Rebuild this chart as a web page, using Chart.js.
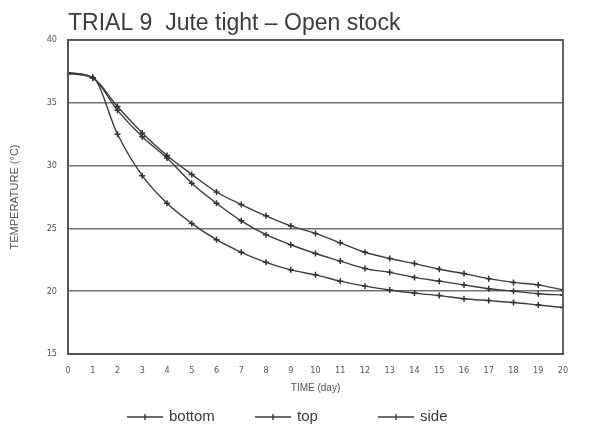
<!DOCTYPE html>
<html>
<head>
<meta charset="utf-8">
<script src="https://cdn.jsdelivr.net/npm/chart.js@4.4.1/dist/chart.umd.min.js"></script>
<style>
  html, body { margin: 0; padding: 0; background: #fff; }
  #wrap { width: 593px; height: 430px; }
</style>
</head>
<body>
<div id="wrap"><canvas id="trial-chart"></canvas></div>
<script>
//-- Readings, one per day//
const days = [0, 1, 2, 3, 4, 5, 6, 7, 8, 9, 10, 11, 12, 13, 14, 15, 16, 17, 18, 19, 20];
const bottomTemp = [37.3, 37.0, 32.5, 29.2, 27.0, 25.4, 24.1, 23.1, 22.3, 21.7, 21.3, 20.8, 20.4, 20.1, 19.85, 19.65, 19.4, 19.25, 19.1, 18.9, 18.7];
const topTemp = [37.4, 37.0, 34.4, 32.3, 30.6, 28.6, 27.0, 25.6, 24.5, 23.7, 23.0, 22.4, 21.8, 21.5, 21.1, 20.8, 20.5, 20.2, 20.0, 19.8, 19.7];
const sideTemp = [37.4, 37.0, 34.7, 32.6, 30.8, 29.3, 27.9, 26.9, 26.0, 25.2, 24.6, 23.85, 23.1, 22.6, 22.2, 21.75, 21.4, 21.0, 20.7, 20.5, 20.1];
const seriesNames = ['bottom', 'top', 'side'];
const yTicks = [15, 20, 25, 30, 35, 40];

const ink = '#3c3c3c';
const gridInk = '#707070';

const toPoints = values => values.map((v, i) => ({ x: days[i], y: v }));

const makeSet = (label, values) => ({
    label,
    data: toPoints(values),
    borderColor: ink,
    borderWidth: 1.4,
    pointStyle: 'cross',
    pointRadius: 3,
    pointBorderWidth: 1.5,
    pointBorderColor: '#333',
    cubicInterpolationMode: 'monotone',
    fill: false
});

//-- Box round the plot area//
const frame = {
    id: 'frame',
    afterDraw(chart) {
        const { ctx, chartArea: a } = chart;
        ctx.save();
        ctx.strokeStyle = '#555';
        ctx.lineWidth = 1.8;
        ctx.strokeRect(a.left, a.top, a.right - a.left, a.bottom - a.top);
        ctx.restore();
    }
};

//-- Legend under the axis: line, marker, name//
const legendSlots = [127, 255, 378];
const lineLegend = {
    id: 'lineLegend',
    afterDraw(chart) {
        const ctx = chart.ctx;
        const y = 417;
        ctx.save();
        ctx.font = '15px "Liberation Sans", Arial, sans-serif';
        ctx.textBaseline = 'middle';
        chart.data.datasets.forEach((ds, i) => {
            const x = legendSlots[i];
            ctx.strokeStyle = ink;
            ctx.lineWidth = 1.4;
            ctx.beginPath();
            ctx.moveTo(x, y);
            ctx.lineTo(x + 36, y);
            ctx.stroke();
            ctx.beginPath();
            ctx.moveTo(x + 18, y - 3);
            ctx.lineTo(x + 18, y + 3);
            ctx.stroke();
            ctx.fillStyle = ink;
            ctx.fillText(ds.label, x + 42, y);
        });
        ctx.restore();
    }
};

const ctx = document.getElementById('trial-chart');

new Chart(ctx, {
    type: 'line',
    data: {
        datasets: [
            makeSet(seriesNames[0], bottomTemp),
            makeSet(seriesNames[1], topTemp),
            makeSet(seriesNames[2], sideTemp)
        ]
    },
    options: {
        responsive: true,
        maintainAspectRatio: false,
        animation: false,
        layout: { padding: { left: 0, right: 30, top: 0, bottom: 34 } },
        plugins: {
            legend: { display: false },
            tooltip: { enabled: false },
            title: {
                display: true,
                text: 'TRIAL 9  Jute tight \u2013 Open stock',
                align: 'start',
                fullSize: false,
                color: ink,
                font: { family: '"Liberation Sans", Arial, sans-serif', size: 23, weight: 'normal' },
                padding: { top: 10, bottom: 2.4 }
            }
        },
        scales: {
            x: {
                type: 'linear',
                min: 0,
                max: 20,
                afterFit: scale => { scale.height = 42; },
                ticks: {
                    stepSize: 1,
                    padding: 11,
                    color: '#555',
                    font: { family: '"DejaVu Sans Condensed", sans-serif', size: 9 }
                },
                grid: { display: false, drawTicks: false },
                border: { color: '#555', width: 1.8 },
                title: {
                    display: true,
                    text: 'TIME (day)',
                    color: '#555',
                    font: { family: '"Liberation Sans", Arial, sans-serif', size: 10 },
                    padding: { top: 0, bottom: 2 }
                }
            },
            y: {
                min: 15,
                max: 40,
                afterFit: scale => { scale.width = 68; },
                afterBuildTicks: scale => {
                    scale.ticks = yTicks.map(v => ({ value: v }));
                },
                ticks: {
                    padding: 11,
                    color: '#555',
                    font: { family: '"DejaVu Sans Condensed", sans-serif', size: 9 }
                },
                grid: { color: gridInk, lineWidth: 1.6, drawTicks: false },
                border: { color: '#555', width: 1.8 },
                title: {
                    display: true,
                    text: 'TEMPERATURE (\u00b0C)',
                    color: '#555',
                    font: { family: '"Liberation Sans", Arial, sans-serif', size: 11 },
                    padding: { top: 8, bottom: 0 }
                }
            }
        }
    },
    plugins: [frame, lineLegend]
});
</script>
</body>
</html>
